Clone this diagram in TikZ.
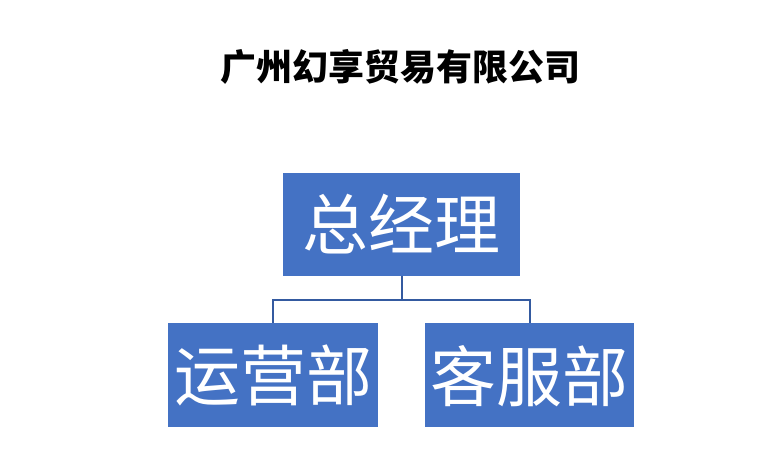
\documentclass[tikz,border=0pt]{standalone}
\usepackage{fontspec}
\newfontfamily\cjk{Noto Sans CJK SC}
\definecolor{boxblue}{RGB}{68,114,196}
\definecolor{linkblue}{RGB}{52,90,160}

\begin{document}
\begin{tikzpicture}[x=1pt,y=-1pt,
		box/.style={fill=boxblue, text=white, inner sep=0pt, font=\cjk\fontsize{66}{66}\selectfont},
		link/.style={draw=linkblue, line width=2pt}]
			\useasboundingbox (0,0) rectangle (779,468);
			\node[font=\cjk\bfseries\fontsize{36}{36}\selectfont] (title) at (400,67) {广州幻享贸易有限公司};
			\node[box, minimum width=237pt, minimum height=103pt, text depth=6pt] (gm) at (401.5,224.5) {总经理};
			\node[box, minimum width=210pt, minimum height=104pt, text depth=4pt] (ops) at (273,375) {运营部};
			\node[box, minimum width=209pt, minimum height=104pt, text depth=4pt] (cs) at (529.5,375) {客服部};
			\draw[link] (gm.south) -- ++(0,24) coordinate (split);
			\draw[link] (split) -| (ops.north);
			\draw[link] (split) -| (cs.north);
		\end{tikzpicture}
\end{document}
